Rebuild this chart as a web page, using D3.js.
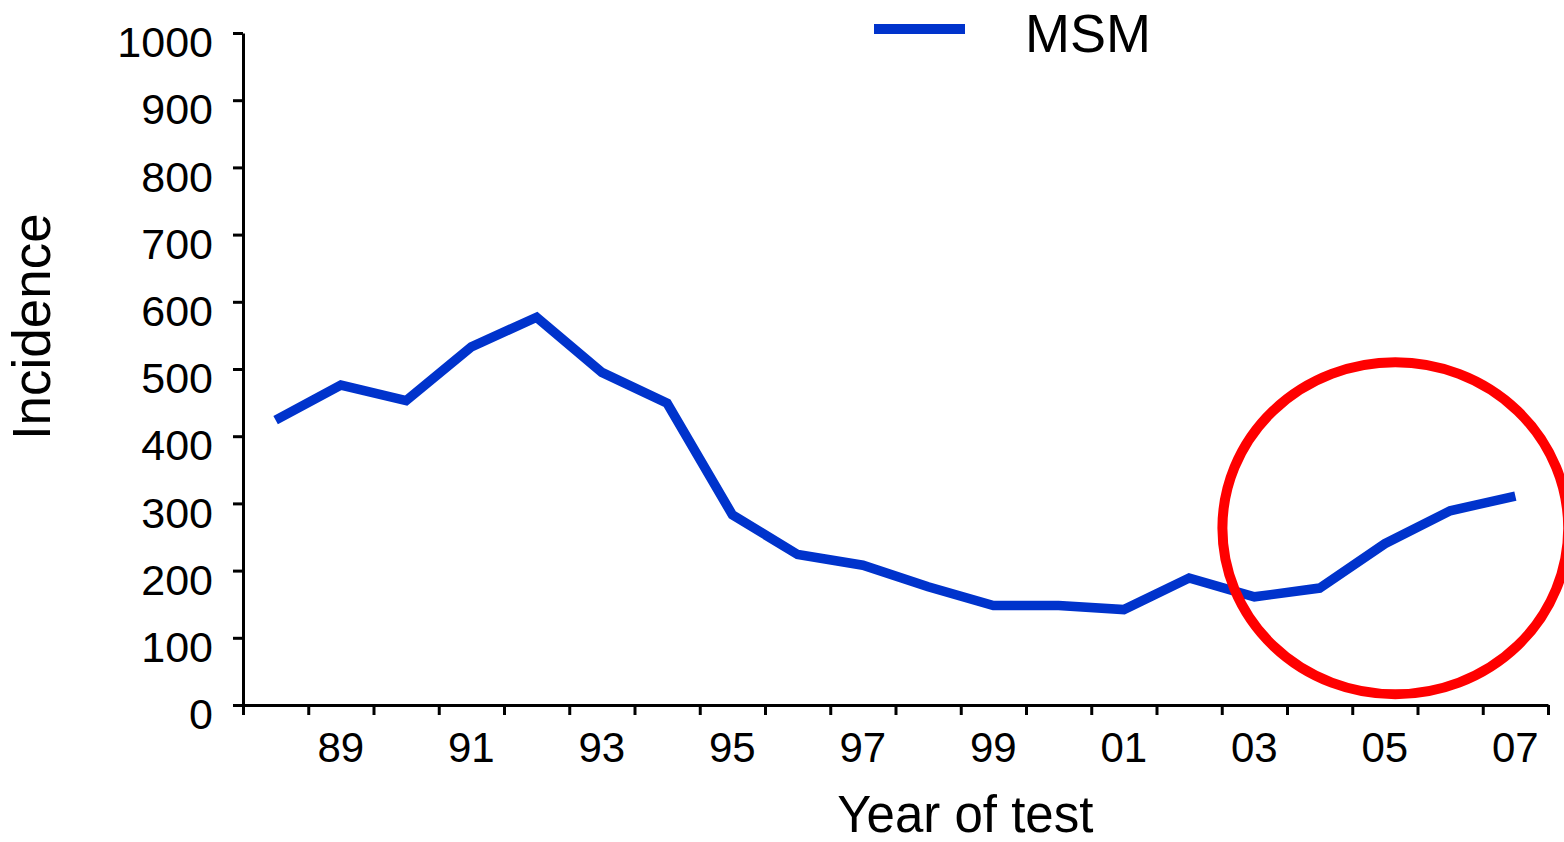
<!DOCTYPE html>
<html>
<head>
<meta charset="utf-8">
<script src="https://cdn.jsdelivr.net/npm/d3@7"></script>
<style>
  html, body { margin: 0; padding: 0; background: #fff; }
  svg { display: block; font-family: "Liberation Sans", Arial, sans-serif; }
  .axis path, .axis line { stroke: #000; stroke-width: 3; }
  .axis text { fill: #000; }
</style>
</head>
<body>
<div class="chart"></div>
<script>
// data
const years = ["88","89","90","91","92","93","94","95","96","97","98","99","00","01","02","03","04","05","06","07"];
const incidence = [424, 476, 453, 533, 577, 495, 449, 283, 224, 208, 176, 148, 148, 142, 189, 161, 174, 240, 289, 311];
const yTicks = [0, 100, 200, 300, 400, 500, 600, 700, 800, 900, 1000];
const xLabels = ["89","91","93","95","97","99","01","03","05","07"];
const seriesName = "MSM";

// highlight ring, in data units (category index / incidence)
const ring = {cx: 17.66, cy: 263, rx: 2.65, ry: 247};

const W = 1564, H = 842;
const margin = {top: 33, left: 243, right: 16, bottom: 137};
const width = W - margin.left - margin.right,
      height = H - margin.top - margin.bottom;

const svg = d3.select('.chart')
    .append('svg')
    .attr('width', W)
    .attr('height', H);

const g = svg.append('g')
    .attr('transform', `translate(${margin.left},${margin.top})`);

const xScale = d3.scaleBand()
    .domain(years)
    .range([0, width])
    .padding(0);

// same range, used for the boundary ticks and the ring
const xLin = d3.scaleLinear()
    .domain([0, years.length])
    .range([0, width]);

const yScale = d3.scaleLinear()
    .domain([0, 1000])
    .range([height, 0]);

// y axis
const yAxis = g.append('g')
    .attr('class', 'axis y-axis')
    .call(d3.axisLeft(yScale)
        .tickValues(yTicks)
        .tickFormat(d3.format('d'))
        .tickSize(10)
        .tickSizeOuter(0)
        .tickPadding(20));
yAxis.selectAll('text')
    .attr('font-size', 43)
    .attr('dy', '0.32em')
    .attr('y', 10);

// x axis: ticks between categories
g.append('g')
    .attr('class', 'axis x-axis')
    .attr('transform', `translate(0,${height})`)
    .call(d3.axisBottom(xLin)
        .tickValues(d3.range(years.length + 1))
        .tickFormat('')
        .tickSize(10)
        .tickSizeOuter(0));

// x labels on odd years
const xLab = g.append('g')
    .attr('class', 'axis x-labels')
    .attr('transform', `translate(0,${height})`)
    .call(d3.axisBottom(xScale)
        .tickValues(xLabels)
        .tickSize(0)
        .tickPadding(27));
xLab.select('.domain').remove();
xLab.selectAll('text').attr('font-size', 42);

// axis titles
svg.append('text')
    .attr('x', margin.left + xLin(11.07))
    .attr('y', 832)
    .attr('text-anchor', 'middle')
    .attr('font-size', 51)
    .text('Year of test');

svg.append('text')
    .attr('transform', `translate(50,${margin.top + yScale(563)}) rotate(-90)`)
    .attr('text-anchor', 'middle')
    .attr('font-size', 53)
    .text('Incidence');

// the line
const line = d3.line()
    .x((d, i) => xScale(years[i]) + xScale.bandwidth() / 2)
    .y(d => yScale(d));

g.append('path')
    .datum(incidence)
    .attr('fill', 'none')
    .attr('stroke', '#0033cc')
    .attr('stroke-width', 9.5)
    .attr('stroke-linejoin', 'miter')
    .attr('d', line);

// red ring
g.append('ellipse')
    .attr('cx', xLin(ring.cx))
    .attr('cy', yScale(ring.cy))
    .attr('rx', xLin(ring.rx) - xLin(0))
    .attr('ry', yScale(0) - yScale(ring.ry))
    .attr('fill', 'none')
    .attr('stroke', '#ff0000')
    .attr('stroke-width', 10);

// legend
const legend = svg.append('g').attr('class', 'legend');
legend.append('line')
    .attr('x1', 874).attr('x2', 965)
    .attr('y1', 29).attr('y2', 29)
    .attr('stroke', '#0033cc')
    .attr('stroke-width', 10);
legend.append('text')
    .attr('x', 1025)
    .attr('y', 52)
    .attr('font-size', 54)
    .text(seriesName);
</script>
</body>
</html>
